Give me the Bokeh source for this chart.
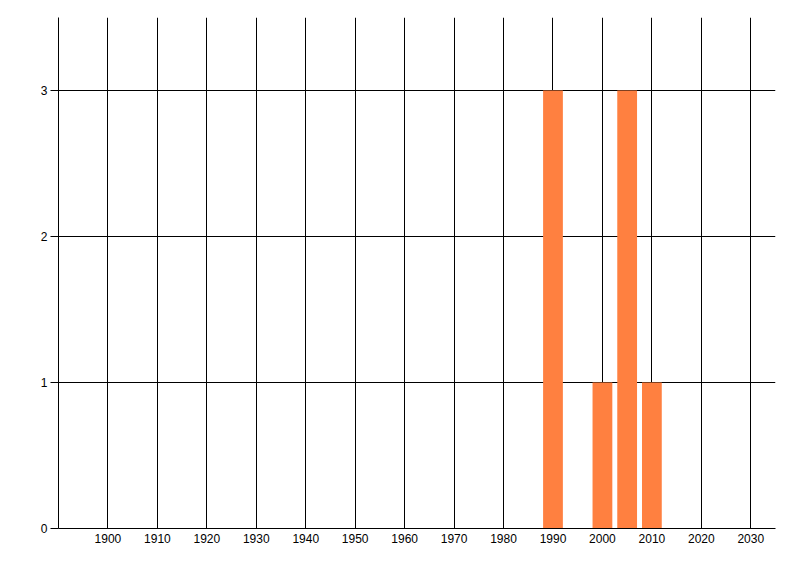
from bokeh.plotting import figure
from bokeh.models import FixedTicker, Range1d
from bokeh.embed import file_html
from bokeh.resources import INLINE

years = [1990, 2000, 2005, 2010]
counts = [3, 1, 3, 1]
x_ticks = list(range(1900, 2031, 10))
y_ticks = [0, 1, 2, 3]

p = figure(width=792, height=568, output_backend="svg", toolbar_location=None,
           x_range=Range1d(1890, 2035), y_range=Range1d(0, 3.5),
           min_border_left=58, min_border_right=17, min_border_top=17, min_border_bottom=40)
p.outline_line_color = None
p.background_fill_color = "white"
p.border_fill_color = "white"

p.vbar(x=years, top=counts, width=4, bottom=0, fill_color="#FF8040", line_color=None)

for ax in (p.xaxis[0], p.yaxis[0]):
    ax.axis_line_color = "black"
    ax.axis_line_width = 1
    ax.major_label_text_font = "Liberation Sans"
    ax.major_label_text_font_size = "12px"
    ax.major_label_text_color = "black"
    ax.minor_tick_line_color = None

p.xaxis.ticker = FixedTicker(ticks=x_ticks)
p.xaxis.major_tick_out = 0
p.xaxis.major_tick_in = 0
p.xaxis.major_label_standoff = 5

p.yaxis.ticker = FixedTicker(ticks=y_ticks)
p.yaxis.major_tick_out = 8
p.yaxis.major_tick_in = 0
p.yaxis.major_tick_line_color = "black"
p.yaxis.major_label_standoff = 3

p.xgrid.ticker = FixedTicker(ticks=x_ticks)
p.xgrid.grid_line_color = "black"
p.xgrid.grid_line_alpha = 1
p.ygrid.ticker = FixedTicker(ticks=[1, 2, 3])
p.ygrid.grid_line_color = "black"
p.ygrid.grid_line_alpha = 1

open("out.html", "w").write(file_html(p, INLINE))
